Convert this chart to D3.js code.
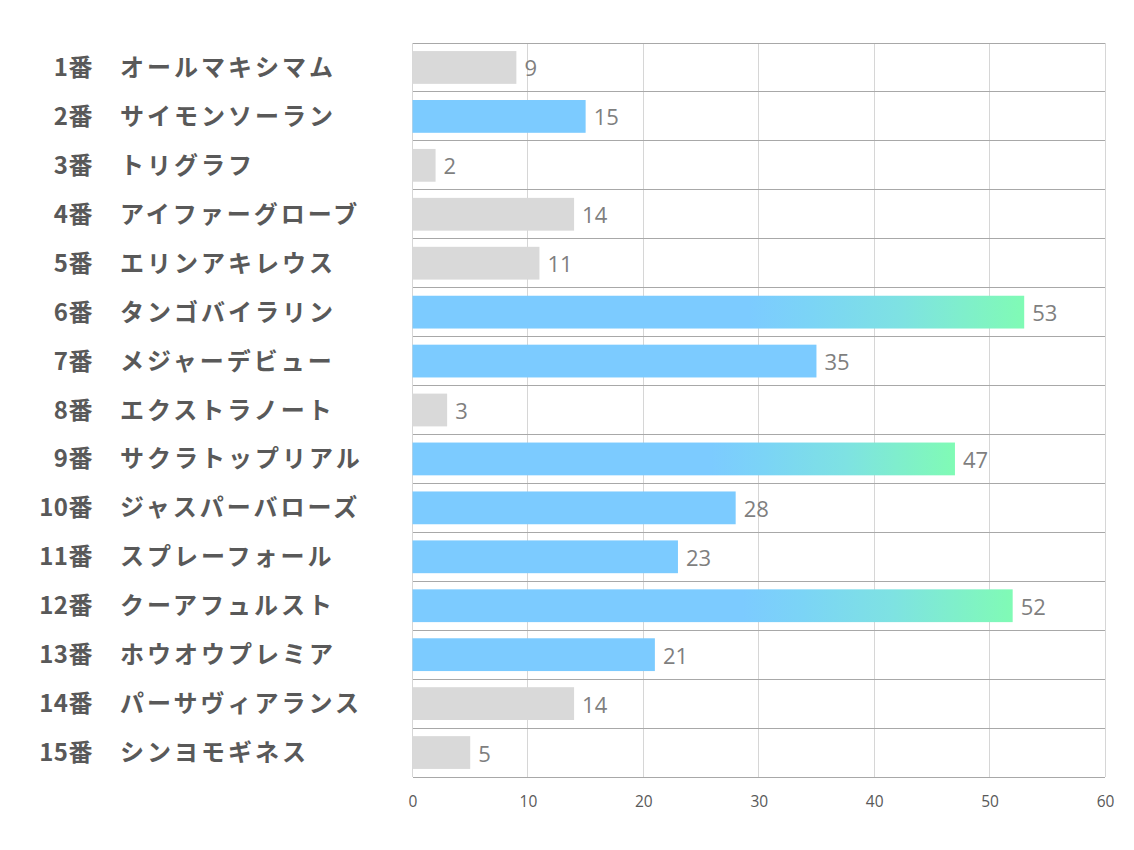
<!DOCTYPE html>
<html><head><meta charset="utf-8">
<script src="https://cdn.jsdelivr.net/npm/d3@7/dist/d3.min.js"></script>
<style>html,body{margin:0;padding:0;background:#fff;}</style>
</head><body>
<svg id="chart" width="1134" height="850"></svg>
<script>
const numbers = ["1番","2番","3番","4番","5番","6番","7番","8番","9番","10番","11番","12番","13番","14番","15番"];
const names = ["オールマキシマム","サイモンソーラン","トリグラフ","アイファーグローブ","エリンアキレウス","タンゴバイラリン","メジャーデビュー","エクストラノート","サクラトップリアル","ジャスパーバローズ","スプレーフォール","クーアフュルスト","ホウオウプレミア","パーサヴィアランス","シンヨモギネス"];
const values = [9,15,2,14,11,53,35,3,47,28,23,52,21,14,5];
const groups = ["other","pick","other","other","other","top","pick","other","top","pick","pick","top","pick","other","other"];
const ticks = [0,10,20,30,40,50,60];

const svg = d3.select("#chart");
const L = 412.5, R = 1105, T = 43, B = 777;
const x = d3.scaleLinear().domain([0,60]).range([L,R]);
const y = d3.scaleBand().domain(d3.range(numbers.length)).range([T,B]).paddingInner(0.33).paddingOuter(0.165);
const step = y.step();

const defs = svg.append("defs");
const grad = defs.append("linearGradient").attr("id","topGrad").attr("x1","0").attr("x2","1").attr("y1","0").attr("y2","0");
grad.append("stop").attr("offset","0").attr("stop-color","#7ccbff");
grad.append("stop").attr("offset","0.55").attr("stop-color","#7ccbff");
grad.append("stop").attr("offset","0.65").attr("stop-color","#7bd4f6");
grad.append("stop").attr("offset","0.8").attr("stop-color","#7ee2e2");
grad.append("stop").attr("offset","1").attr("stop-color","#80fbb5");

// vertical gridlines
svg.append("g").selectAll("line").data(ticks).join("line")
  .attr("x1",d=>x(d)).attr("x2",d=>x(d)).attr("y1",T).attr("y2",B)
  .attr("stroke","#d6d6d6").attr("stroke-width",1).attr("shape-rendering","crispEdges");

// horizontal row lines
svg.append("g").selectAll("line").data(d3.range(numbers.length+1)).join("line")
  .attr("x1",L).attr("x2",R).attr("y1",i=>T+i*step).attr("y2",i=>T+i*step)
  .attr("stroke","#a8a8a8").attr("stroke-width",1).attr("shape-rendering","crispEdges");

const color = g => g==="other" ? "#d9d9d9" : g==="pick" ? "#7ccbff" : "url(#topGrad)";

svg.append("g").selectAll("rect").data(values).join("rect")
  .attr("x",x(0)).attr("y",(d,i)=>y(i)).attr("width",d=>x(d)-x(0)).attr("height",y.bandwidth())
  .attr("fill",(d,i)=>color(groups[i]));

svg.append("g").selectAll("text").data(values).join("text")
  .attr("x",d=>x(d)+8).attr("y",(d,i)=>y(i)+y.bandwidth()/2)
  .attr("dominant-baseline","central")
  .attr("font-family","'Open Sans', sans-serif").attr("font-size",22)
  .attr("fill","#7f7f7f").text(d=>d);

// category labels
svg.append("g").selectAll("text").data(numbers).join("text")
  .attr("x",93).attr("y",(d,i)=>y(i)+y.bandwidth()/2-2)
  .attr("text-anchor","end").attr("dominant-baseline","central")
  .attr("font-family","'Noto Sans CJK JP', sans-serif").attr("font-weight","bold").attr("font-size",24)
  .attr("letter-spacing",0.5)
  .attr("fill","#595959").text(d=>d);
svg.append("g").selectAll("text").data(names).join("text")
  .attr("x",120).attr("y",(d,i)=>y(i)+y.bandwidth()/2-2)
  .attr("dominant-baseline","central")
  .attr("font-family","'Noto Sans CJK JP', sans-serif").attr("font-weight","bold").attr("font-size",24)
  .attr("letter-spacing",3)
  .attr("fill","#595959").text(d=>d);

// x axis
const ax = svg.append("g").attr("transform",`translate(0,${B})`)
  .call(d3.axisBottom(x).tickValues(ticks).tickSize(0).tickPadding(19));
ax.select(".domain").remove();
ax.selectAll("text").attr("font-family","'Open Sans', sans-serif").attr("font-size",15.5).attr("fill","#595959");
</script>
</body></html>
